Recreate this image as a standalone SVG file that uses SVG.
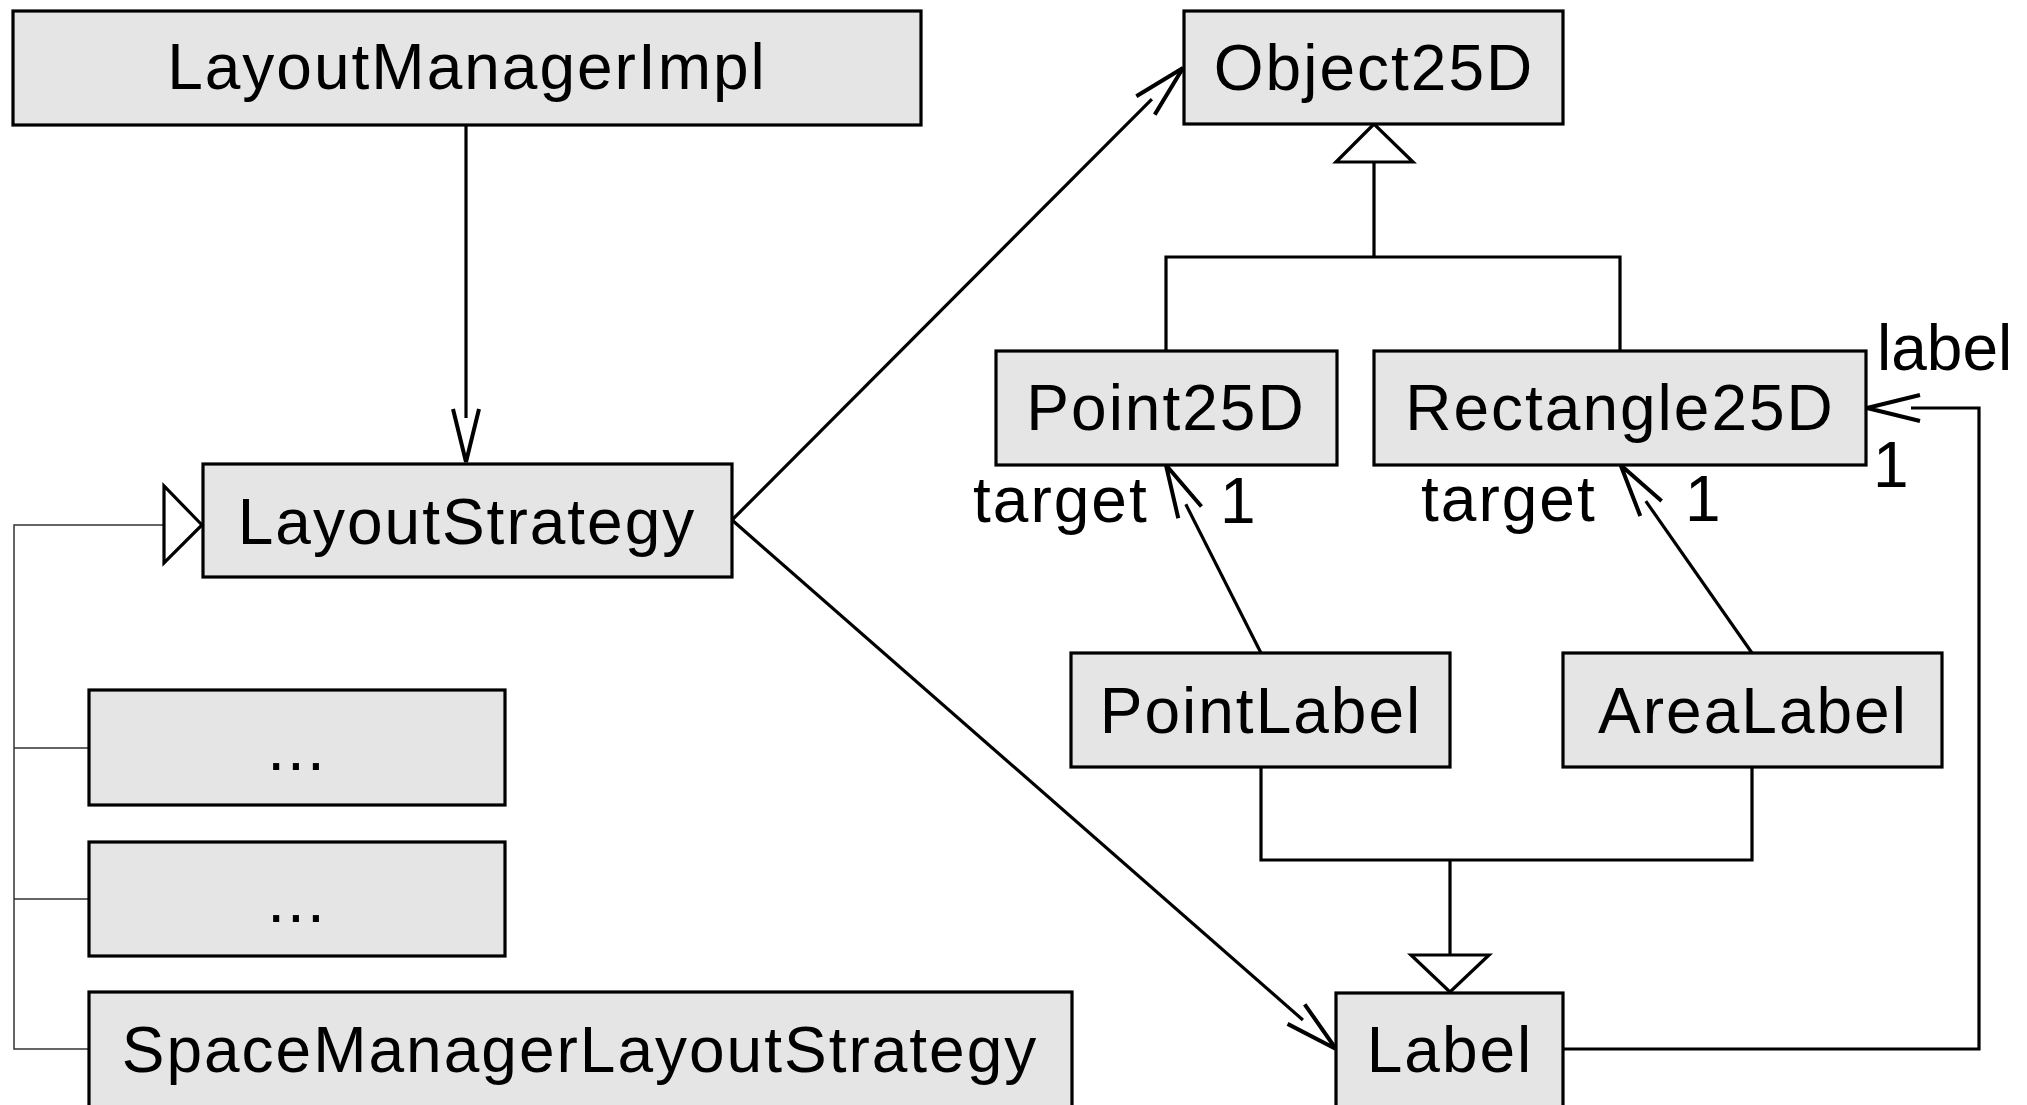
<svg xmlns="http://www.w3.org/2000/svg" width="2027" height="1105" viewBox="0 0 2027 1105">
<style>
.box{fill:#e5e5e5;stroke:#000;stroke-width:3.2}
.t{font-family:"Liberation Sans",Arial,sans-serif;font-size:64px;letter-spacing:2px;fill:#000}
.c{text-anchor:middle}
.ln{fill:none;stroke:#000;stroke-width:3.2}
.thin{fill:none;stroke:#333;stroke-width:1.5}
.tri{fill:#fff;stroke:#000;stroke-width:3.2;stroke-linejoin:miter}
</style>
<defs>
<marker id="open" markerUnits="userSpaceOnUse" orient="auto" refX="-44" refY="0" markerWidth="60" markerHeight="30" overflow="visible">
<path d="M-53,-13 L0,0 L-53,13" fill="none" stroke="#000" stroke-width="4"/>
</marker>
</defs>
<rect width="2027" height="1105" fill="#fff"/>
<g id="connectors">
<path class="ln" d="M466,125 L466,418" marker-end="url(#open)"/>
<path class="ln" d="M732,520 L1151.9,99.1" marker-end="url(#open)"/>
<path class="ln" d="M732,520 L1302.9,1020" marker-end="url(#open)"/>
<path class="ln" d="M1261,653 L1185.8,504.3" marker-end="url(#open)"/>
<path class="ln" d="M1752,653 L1645.8,501.1" marker-end="url(#open)"/>
<path class="ln" d="M1563,1049 L1979,1049 L1979,408 L1911,408" marker-end="url(#open)"/>
<path class="ln" d="M1374,162 L1374,257 M1166,351 L1166,257 L1620,257 L1620,351"/>
<polygon class="tri" points="1374,124 1336,162 1413,162"/>
<path class="ln" d="M1261,767 L1261,860 L1752,860 L1752,767 M1450,860 L1450,955"/>
<polygon class="tri" points="1450,992 1411,955 1489,955"/>
<path class="thin" d="M164,525 L14,525 L14,1049 L89,1049 M14,748 L89,748 M14,899 L89,899"/>
<polygon class="tri" points="202,525 164,486 164,563"/>
</g>
<g id="LayoutManagerImpl"><rect class="box" x="13" y="11" width="908" height="114"/><text class="t c" x="467" y="89">LayoutManagerImpl</text></g>
<g id="Object25D"><rect class="box" x="1184" y="11" width="379" height="113"/><text class="t c" x="1374" y="90">Object25D</text></g>
<g id="LayoutStrategy"><rect class="box" x="203" y="464" width="529" height="113"/><text class="t c" x="467" y="544">LayoutStrategy</text></g>
<g id="Point25D"><rect class="box" x="996" y="351" width="341" height="114"/><text class="t c" x="1166" y="430">Point25D</text></g>
<g id="Rectangle25D"><rect class="box" x="1374" y="351" width="492" height="114"/><text class="t c" x="1620" y="430">Rectangle25D</text></g>
<g id="PointLabel"><rect class="box" x="1071" y="653" width="379" height="114"/><text class="t c" x="1261" y="733">PointLabel</text></g>
<g id="AreaLabel"><rect class="box" x="1563" y="653" width="379" height="114"/><text class="t c" x="1753" y="733">AreaLabel</text></g>
<g id="Label"><rect class="box" x="1336" y="993" width="227" height="118"/><text class="t c" x="1450" y="1072">Label</text></g>
<g id="Impl1"><rect class="box" x="89" y="690" width="416" height="115"/><text class="t c" x="297" y="770">...</text></g>
<g id="Impl2"><rect class="box" x="89" y="842" width="416" height="114"/><text class="t c" x="297" y="922">...</text></g>
<g id="SpaceManagerLayoutStrategy"><rect class="box" x="89" y="992" width="983" height="118"/><text class="t c" x="580" y="1072">SpaceManagerLayoutStrategy</text></g>
<g id="labels">
<text class="t" x="973" y="522">target</text>
<text class="t" x="1220" y="523">1</text>
<text class="t" x="1421" y="521">target</text>
<text class="t" x="1685" y="521">1</text>
<text class="t" x="1877" y="370" style="letter-spacing:0">label</text>
<text class="t" x="1873" y="487">1</text>
</g>
</svg>
